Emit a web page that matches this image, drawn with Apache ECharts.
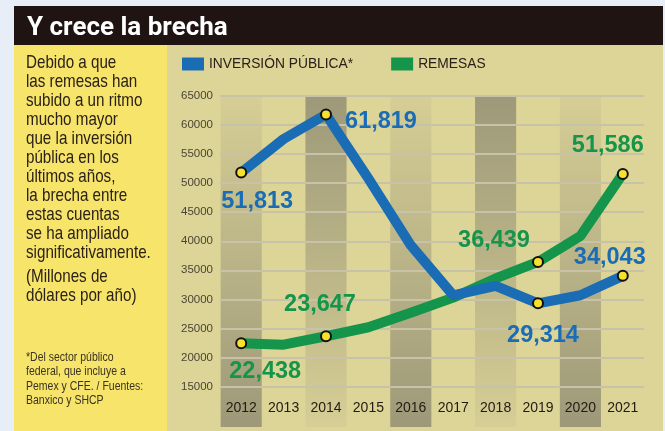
<!DOCTYPE html>
<html>
<head>
<meta charset="utf-8">
<script src="https://cdn.jsdelivr.net/npm/echarts@6/dist/echarts.min.js"></script>
<style>
  html, body { margin: 0; padding: 0; background: #e7eef7; }
  #main { width: 665px; height: 431px; }
</style>
</head>
<body>
<div id="main"></div>
<script>
var myChart = echarts.init(document.getElementById('main'));

// data
var years = ['2012', '2013', '2014', '2015', '2016', '2017', '2018', '2019', '2020', '2021'];
var inversion = [51813, 57600, 61819, 50800, 39300, 30700, 32300, 29314, 30700, 34043];
var remesas = [22438, 22200, 23647, 25200, 27700, 30300, 33600, 36439, 40900, 51586];
// which points get a dot + label, and where the label sits (offset from the dot)
var inversionLabels = { 0: [16, 29], 2: [55, 7], 7: [5, 32], 9: [-13, -18] };
var remesasLabels = { 0: [24, 28], 2: [-6, -32], 7: [-44, -21], 9: [-15, -28] };
// shaded year columns: 1 = darker at top, -1 = darker at bottom
var bands = [-1, 0, 1, 0, -1, 0, 1, 0, -1, 0];

var introText = [
    'Debido a que', 'las remesas han', 'subido a un ritmo', 'mucho mayor',
    'que la inversión', 'pública en los', 'últimos años,', 'la brecha entre',
    'estas cuentas', 'se ha ampliado', 'significativamente.'
];
var unitText = ['(Millones de', 'dólares por año)'];
var noteText = ['*Del sector público', 'federal, que incluye a', 'Pemex y CFE. / Fuentes:', 'Banxico y SHCP'];

var BLUE = '#1a6db4';
var GREEN = '#15954b';
var SANS = '"Liberation Sans", Arial, sans-serif';

function fmt(v) {
    return String(v).replace(/\B(?=(\d{3})+(?!\d))/g, ',');
}

function buildLine(values, labels, color) {
    return values.map(function (v, i) {
        if (labels[i]) {
            return {
                value: v,
                symbol: 'circle',
                label: {
                    show: true,
                    position: 'inside',
                    offset: labels[i],
                    formatter: fmt(v),
                    color: color,
                    fontSize: 23.5,
                    fontWeight: 'bold',
                    fontFamily: SANS
                }
            };
        }
        return { value: v, symbol: 'none' };
    });
}

var bandData = bands.map(function (b) {
    if (!b) return '-';
    var dark = '#9d9979', light = '#d6ce95';
    return {
        value: 1,
        itemStyle: {
            color: new echarts.graphic.LinearGradient(0, 0, 0, 1, [
                { offset: 0, color: b > 0 ? dark : light },
                { offset: 1, color: b > 0 ? light : dark }
            ])
        }
    };
});

// narrow text: no condensed face installed, so squeeze it horizontally
function narrowText(lines, left, top, size, lineHeight, color) {
    return {
        type: 'text', left: left, top: top, scaleX: 0.82,
        style: { text: lines.join('\n'), fill: color, font: size + 'px ' + SANS, lineHeight: lineHeight }
    };
}

var option = {
    backgroundColor: '#e7eef7',
    title: {
        text: 'Y crece la brecha',
        left: 22,
        top: 10,
        textStyle: {
            color: '#ffffff',
            fontSize: 26,
            fontWeight: 'bold',
            fontFamily: 'Roboto, sans-serif'
        }
    },
    legend: {
        data: [
            { name: 'INVERSIÓN PÚBLICA*', itemStyle: { color: BLUE, borderWidth: 0 } },
            { name: 'REMESAS', itemStyle: { color: GREEN, borderWidth: 0 } }
        ],
        left: 177,
        top: 52,
        icon: 'rect',
        itemWidth: 22,
        itemHeight: 13,
        itemGap: 38,
        itemTextGap: 6,
        textStyle: {
            color: '#2a2018',
            fontSize: 13.8,
            fontFamily: SANS
        }
    },
    graphic: [
        { type: 'rect', z: -100, shape: { x: 14, y: 6, width: 649, height: 425 }, style: { fill: '#ddd597' } },
        { type: 'rect', z: -99, shape: { x: 14, y: 44, width: 153, height: 387 }, style: { fill: '#f6e46b' } },
        { type: 'rect', z: -99, shape: { x: 14, y: 6, width: 649, height: 39 }, style: { fill: '#1f1412' } },
        narrowText(introText, 26, 53, 18.5, 19, '#2b2117'),
        narrowText(unitText, 26, 267, 18.5, 19, '#2b2117'),
        narrowText(noteText, 26, 350, 12.8, 14.5, '#3b3222')
    ],
    grid: [
        { left: 220, right: 21, top: 96, bottom: 44.5 },
        { left: 220, right: 21, top: 96, bottom: 4 }
    ],
    xAxis: [
        {
            type: 'category',
            gridIndex: 0,
            data: years,
            boundaryGap: true,
            axisLine: { show: false },
            axisTick: { show: false },
            axisLabel: {
                interval: 0,
                margin: 15,
                color: '#231a14',
                fontSize: 14,
                fontFamily: SANS
            }
        },
        {
            type: 'category',
            gridIndex: 1,
            data: years,
            show: false
        }
    ],
    yAxis: [
        {
            type: 'value',
            gridIndex: 0,
            min: 15000,
            max: 65000,
            interval: 5000,
            axisLine: { show: false },
            axisTick: { show: false },
            axisLabel: {
                margin: 7,
                color: '#4a4535',
                fontSize: 11.5,
                fontFamily: SANS,
                padding: [4, 0, 0, 0],
                formatter: function (v) { return String(v); }
            },
            splitLine: { lineStyle: { color: '#c7c2a8', width: 2 } }
        },
        {
            type: 'value',
            gridIndex: 1,
            min: 0,
            max: 1,
            show: false
        }
    ],
    series: [
        {
            type: 'bar',
            xAxisIndex: 1,
            yAxisIndex: 1,
            z: -1,
            barWidth: '97%',
            silent: true,
            data: bandData
        },
        {
            name: 'REMESAS',
            type: 'line',
            data: buildLine(remesas, remesasLabels, GREEN),
            color: GREEN,
            lineStyle: { width: 10, color: GREEN, join: 'round' },
            symbolSize: 10,
            showAllSymbol: true,
            itemStyle: { color: '#f6e22c', borderColor: '#111111', borderWidth: 2 },
            emphasis: { disabled: true }
        },
        {
            name: 'INVERSIÓN PÚBLICA*',
            type: 'line',
            data: buildLine(inversion, inversionLabels, BLUE),
            color: BLUE,
            lineStyle: { width: 10, color: BLUE, join: 'round' },
            symbolSize: 10,
            showAllSymbol: true,
            itemStyle: { color: '#f6e22c', borderColor: '#111111', borderWidth: 2 },
            emphasis: { disabled: true }
        }
    ]
};

myChart.setOption(option);
</script>
</body>
</html>
